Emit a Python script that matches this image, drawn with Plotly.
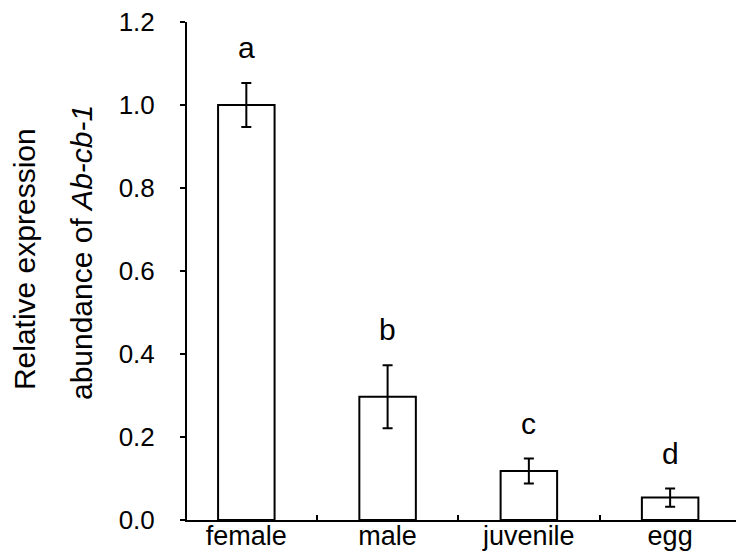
import plotly.graph_objects as go

stages = ['female', 'male', 'juvenile', 'egg']
expression = [1.0, 0.297, 0.118, 0.054]
sem = [0.053, 0.076, 0.03, 0.022]
letters = ['a', 'b', 'c', 'd']
y_ticks = [0.0, 0.2, 0.4, 0.6, 0.8, 1.0, 1.2]

font_family = 'Liberation Sans, Arial, sans-serif'

fig = go.Figure()

fig.add_trace(go.Bar(
    x=stages,
    y=expression,
    width=0.4,
    marker=dict(color='white', line=dict(color='black', width=2)),
    error_y=dict(type='data', array=sem, visible=True,
                 color='black', thickness=2, width=5),
    showlegend=False,
))

# significance letters sit a little above each error bar
for stage, val, err, letter in zip(stages, expression, sem, letters):
    fig.add_annotation(
        x=stage, y=val + err + 0.085,
        text=letter, showarrow=False,
        font=dict(size=30, color='black', family=font_family),
    )

# two-line y title, placed by hand because the gap between the lines is wide
fig.add_annotation(
    xref='paper', yref='paper', x=-0.292, y=0.524,
    text='Relative expression', textangle=-90, showarrow=False,
    xanchor='center', yanchor='middle', borderpad=0,
    font=dict(size=30, color='black', family=font_family),
)
fig.add_annotation(
    xref='paper', yref='paper', x=-0.19, y=0.538,
    text='abundance of <i>Ab-cb-1</i>', textangle=-90, showarrow=False,
    xanchor='center', yanchor='middle', borderpad=0,
    font=dict(size=30, color='black', family=font_family),
)

fig.update_layout(
    width=744, height=552,
    plot_bgcolor='white', paper_bgcolor='white',
    margin=dict(l=179, r=7, t=14, b=40),
    font=dict(family=font_family, color='black'),
    xaxis=dict(
        type='category', range=[-0.42, 3.53],
        showline=True, linecolor='black', linewidth=2,
        ticks='inside', tickson='boundaries', ticklen=5, tickwidth=2,
        tickcolor='black', showgrid=False, automargin=False,
        tickfont=dict(size=27, color='black'),
        ticklabelstandoff=-9,
    ),
    yaxis=dict(
        range=[0, 1.2], tickvals=y_ticks, tickformat='.1f',
        showline=True, linecolor='black', linewidth=2,
        ticks='outside', ticklen=5, tickwidth=2, tickcolor='black',
        showgrid=False, zeroline=False, automargin=False,
        tickfont=dict(size=26, color='black'),
        ticklabelstandoff=20, ticklabeloverflow='allow',
    ),
)

fig.write_html('out.html')
